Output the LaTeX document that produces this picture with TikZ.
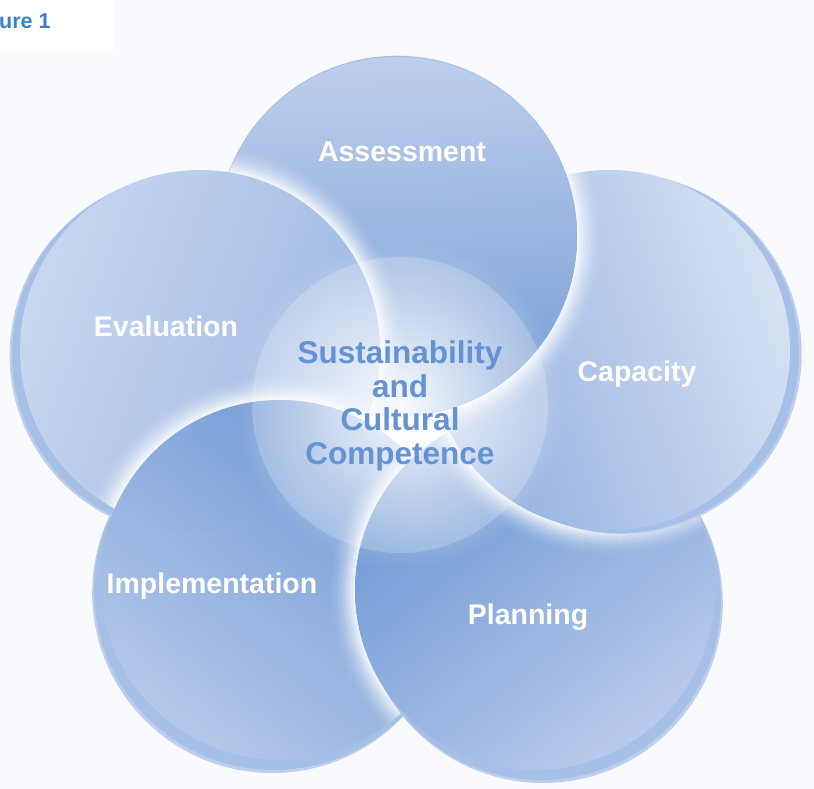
\documentclass[tikz,border=0pt]{standalone}
\usepackage{fontspec}
\setmainfont{Liberation Sans}
\usetikzlibrary{fadings}

\definecolor{bgpaper}{RGB}{249,250,253}
\definecolor{figblue}{RGB}{58,128,200}
\definecolor{coreblue}{RGB}{100,146,212}
\definecolor{rimblue}{RGB}{166,191,230}
\definecolor{rimsoft}{RGB}{190,207,237}
\definecolor{assesslight}{RGB}{190,207,236}
\definecolor{assessdark}{RGB}{116,156,213}
\definecolor{caplight}{RGB}{214,225,243}
\definecolor{capdark}{RGB}{146,176,224}
\definecolor{planlight}{RGB}{184,202,235}
\definecolor{plandark}{RGB}{108,151,211}
\definecolor{impllight}{RGB}{180,199,233}
\definecolor{impldark}{RGB}{110,153,212}
\definecolor{evallight}{RGB}{200,215,240}
\definecolor{evaldark}{RGB}{156,183,226}

\tikzfading[name=glowfade, inner color=transparent!5, outer color=transparent!100]

% disc: centre x, centre y, rim dx, rim dy, shading angle, light, dark
\newcommand{\petal}[7]{%
  \fill[rimsoft] (#1+#3*1.3,#2+#4*1.3) circle (180);
  \fill[rimblue] (#1+#3,#2+#4) circle (180);
  \shade[top color=#6, bottom color=#7, shading angle=#5] (#1,#2) circle (180);
}
% white halo of the upper disc (#1,#2) where it lies on the lower disc (#3,#4)
\newcommand{\halo}[4]{%
  \begin{scope}
    \clip (#3,#4) circle (180);
    \foreach \k in {1,...,14}
      \draw[white, line width=2.2pt, opacity={0.95*(1-\k/15)*(1-\k/15)}] (#1,#2) circle (179+2*\k);
  \end{scope}
}

\begin{document}
\begin{tikzpicture}[x=1pt,y=-1pt,
    petal label/.style={text=white, font=\fontsize{28.5}{34}\selectfont\bfseries},
    core label/.style={text=coreblue, align=center, font=\fontsize{31.5}{33.7}\selectfont\bfseries},
    fig label/.style={text=figblue, inner sep=0pt, font=\fontsize{21.5}{24}\selectfont\bfseries}]
  \useasboundingbox (0,0) rectangle (814,789);
  \fill[bgpaper] (0,0) rectangle (814,789);
  \fill[white] (0,0) rectangle (113,52);
  \node[fig label, anchor=base west] (figlbl) at (-1,29) {ure 1};

  % the five discs, each one lying on the next
  \petal{280}{580}{-6}{10}{142}{impllight}{impldark}
  \halo{535}{590}{280}{580}
  \petal{535}{590}{6}{10}{-142}{planlight}{plandark}
  \halo{610}{350}{535}{590}
  \petal{610}{350}{9}{3}{-71}{caplight}{capdark}
  \halo{397}{237}{610}{350}
  \petal{397}{237}{0}{-1}{2}{assesslight}{assessdark}
  \halo{200}{350}{397}{237}
  \petal{200}{350}{-8}{4}{70}{evallight}{evaldark}
  % Implementation again, only where it covers Evaluation and its rim
  \begin{scope}
    \clip (200,350) circle (180) (189.6,355.2) circle (180);
    \halo{280}{580}{200}{350}
    \shade[top color=impllight, bottom color=impldark, shading angle=142] (280,580) circle (180);
  \end{scope}

  % glow in the middle
  \fill[white, opacity=0.2] (400,405) circle (148);
  \fill[white, path fading=glowfade] (400,405) circle (165);

  \node[petal label] (assesslbl) at (402,152) {Assessment};
  \node[petal label] (caplbl) at (637,374) {Capacity};
  \node[petal label] (planlbl) at (528,617) {Planning};
  \node[petal label] (impllbl) at (212,586) {Implementation};
  \node[petal label] (evallbl) at (166,326) {Evaluation};
  \node[core label] (core) at (400,406) {Sustainability\\and\\Cultural\\Competence};
\end{tikzpicture}
\end{document}
